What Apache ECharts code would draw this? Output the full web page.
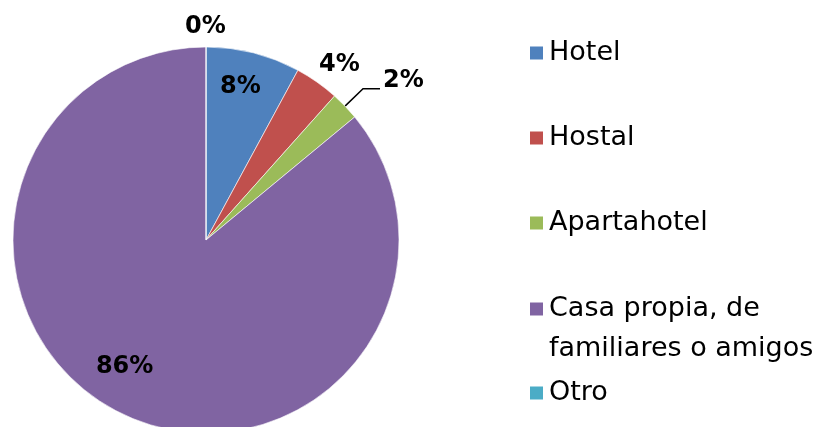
<!DOCTYPE html>
<html>
<head>
<meta charset="utf-8">
<script src="https://cdn.jsdelivr.net/npm/echarts@6/dist/echarts.min.js"></script>
<style>
    html, body { margin: 0; padding: 0; background: #fff; }
    #chart { width: 825px; height: 427px; }
</style>
</head>
<body>
<div id="chart"></div>
<script>
    // categorias y porcentajes
    var categories = ['Hotel', 'Hostal', 'Apartahotel', 'Casa propia, de familiares o amigos', 'Otro'];
    var values = [7.9, 3.7, 2.4, 86.0, 0];
    var colors = ['#4F81BD', '#C0504D', '#9BBB59', '#8064A2', '#4BACC6'];

    // ajuste de etiquetas (dx, dy) como en el original
    var labelShift = [[10, -57], [-3, -17.5], [0, -8], [-39, 37], [-26, -20]];

    var data = [];
    for (var i = 0; i < categories.length; i++) {
        var item = {
            name: categories[i],
            value: values[i],
            itemStyle: { color: colors[i] },
            labelLine: { show: false, length: 0, length2: 0 }
        };
        if (i === 0 || i === 3) {
            item.label = { position: 'inside' };
        }
        if (i === 2) {
            item.labelLine = {
                show: true,
                length: 25,
                length2: 17,
                lineStyle: { color: '#000', width: 1.5 }
            };
            item.label = { distanceToLabelLine: 3 };
        }
        data.push(item);
    }

    var legendText = {
        fontFamily: 'DejaVu Sans',
        fontSize: 27,
        color: '#000',
        lineHeight: 40
    };

    var myChart = echarts.init(document.getElementById('chart'));
    var option = {
        animation: false,
        legend: [{
            data: categories.slice(0, 3),
            orient: 'vertical',
            left: 528,
            top: 33,
            padding: 0,
            itemGap: 45,
            icon: 'rect',
            itemWidth: 15,
            itemHeight: 15,
            textStyle: legendText
        }, {
            data: categories.slice(3),
            orient: 'vertical',
            left: 528,
            top: 249,
            padding: 0,
            itemGap: 4,
            icon: 'rect',
            itemWidth: 15,
            itemHeight: 15,
            textStyle: legendText,
            formatter: function(name) {
                if (name.indexOf(', de ') > 0) {
                    return '\n' + name.replace(', de ', ', de\n');
                }
                return name;
            }
        }],
        series: [{
            type: 'pie',
            center: [206, 240],
            radius: 193,
            startAngle: 90,
            clockwise: true,
            avoidLabelOverlap: false,
            silent: true,
            itemStyle: {
                borderColor: '#fff',
                borderWidth: 0.6
            },
            label: {
                show: true,
                position: 'outside',
                fontFamily: 'DejaVu Sans',
                fontWeight: 'bold',
                fontSize: 24,
                color: '#000',
                formatter: function(param) {
                    return Math.round(param.value) + '%';
                }
            },
            labelLayout: function(params) {
                var s = labelShift[params.dataIndex];
                return { dx: s[0], dy: s[1] };
            },
            data: data
        }]
    };
    myChart.setOption(option);
</script>
</body>
</html>
